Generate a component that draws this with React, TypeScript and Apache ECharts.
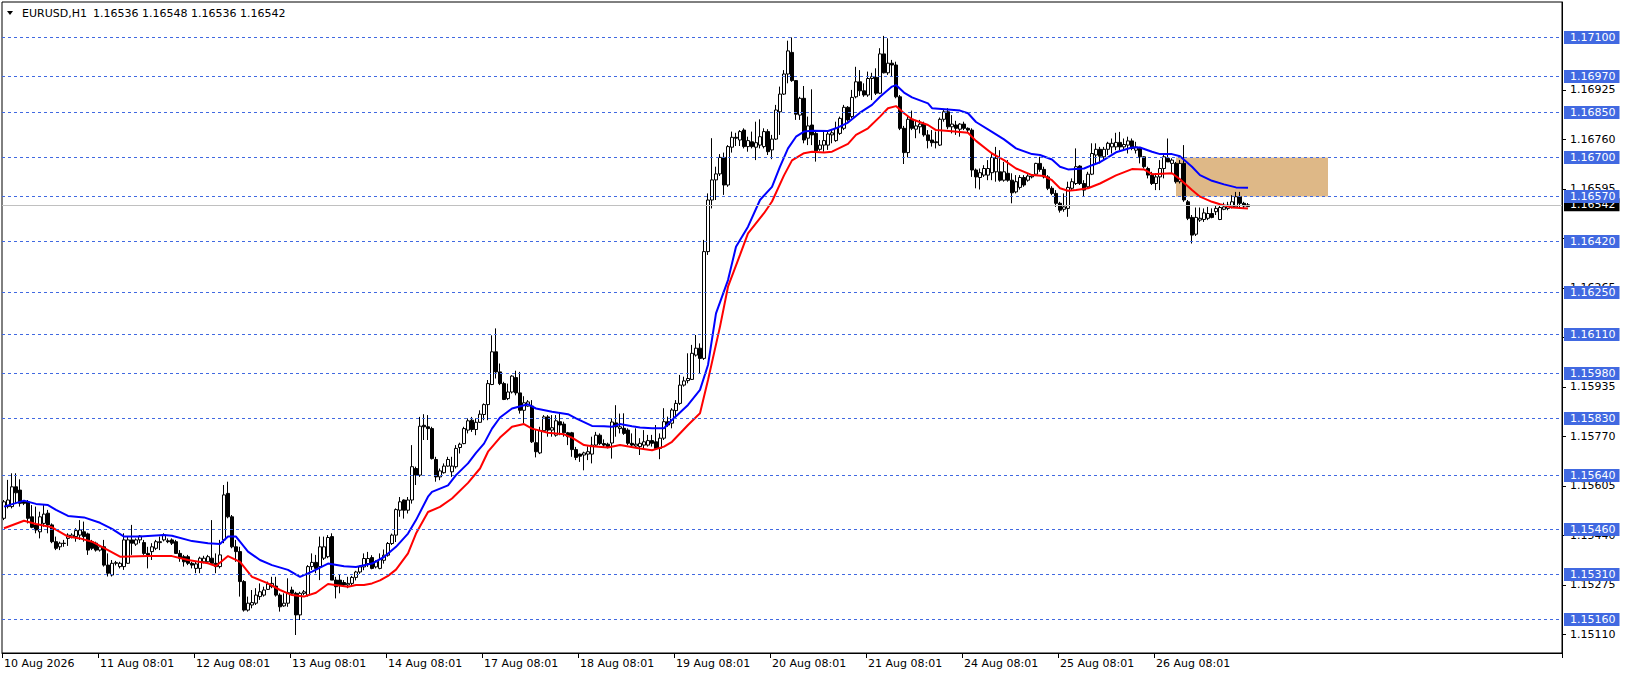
import React, { useEffect, useRef } from "react";
import * as echarts from "echarts";

// Prices below are stored as points (0.00001) above 1.15000
const BASE = 1.15;
const PT = 0.00001;

const headerSymbol = "EURUSD,H1";
const headerQuote = "1.16536 1.16548 1.16536 1.16542";

const dayLabels = [
  "10 Aug 2026", "11 Aug 08:01", "12 Aug 08:01", "13 Aug 08:01", "14 Aug 08:01",
  "17 Aug 08:01", "18 Aug 08:01", "19 Aug 08:01", "20 Aug 08:01", "21 Aug 08:01",
  "24 Aug 08:01", "25 Aug 08:01", "26 Aug 08:01",
];
const barsPerDay = 24;
const totalSlots = 390;

const levels = [1.171, 1.1697, 1.1685, 1.167, 1.1657, 1.1642, 1.1625, 1.1611, 1.1598, 1.1583, 1.1564, 1.1546, 1.1531, 1.1516];
const tickValues = [1.1511, 1.15275, 1.1544, 1.15605, 1.1577, 1.15935, 1.161, 1.16265, 1.1643, 1.16595, 1.1676, 1.16925];
const labelValues = [1.1511, 1.15275, 1.1544, 1.15605, 1.1577, 1.15935, 1.16265, 1.16595, 1.1676, 1.16925];
const currentPrice = 1.16542;
const zonePrices = [1.1657, 1.167];
const zoneBars = [293, 331];
const yMin = 1.15048;
const yMax = 1.17218;

// [open, high, low, close] in points
const day0 = [[497,558,491,552],[536,625,530,558],[536,647,530,602],[602,647,547,582],[591,627,536,547],[552,558,541,547],[552,558,480,497],[502,541,464,467],[475,536,447,458],[452,519,430,502],[480,541,469,511],[514,525,447,475],[475,480,414,419],[419,436,391,397],[402,419,391,414],[414,425,402,413],[430,447,405,441],[434,447,430,441],[436,464,419,456],[441,491,425,458],[452,486,419,436],[445,449,375,391],[419,425,391,397],[414,419,386,391]];
const day1 = [[391,408,386,402],[402,425,336,341],[341,380,303,314],[308,358,303,347],[347,355,340,349],[336,352,330,347],[336,447,325,425],[347,436,345,425],[425,475,375,414],[411,430,405,425],[425,441,414,438],[416,425,375,380],[380,402,330,375],[386,414,358,402],[397,425,391,419],[416,436,391,419],[425,447,420,441],[422,430,414,419],[425,430,408,414],[419,425,378,380],[380,391,352,364],[369,375,336,352],[369,375,341,347],[347,352,330,341]];
const day2 = [[330,352,314,345],[330,369,314,364],[352,372,347,364],[352,375,345,369],[364,491,341,347],[347,380,314,336],[336,425,330,375],[425,608,414,575],[580,619,497,502],[502,508,397,402],[402,425,352,386],[386,402,236,286],[286,291,186,191],[191,236,186,214],[208,258,197,216],[214,264,208,241],[236,280,225,252],[241,269,236,258],[260,286,258,278],[269,302,264,280],[271,302,236,241],[241,247,186,202],[205,247,202,214],[214,297,202,249]];
const day3 = [[258,269,241,247],[247,252,108,175],[175,252,158,247],[247,258,241,252],[241,341,236,336],[336,380,325,350],[350,375,314,330],[336,436,291,402],[364,436,358,402],[369,441,364,433],[436,447,291,291],[291,302,230,269],[291,308,247,275],[283,291,269,275],[275,302,264,280],[280,305,270,300],[300,322,290,318],[318,340,312,335],[335,380,324,363],[346,385,335,363],[366,374,327,330],[335,357,330,352],[330,380,327,360],[357,393,346,374]];
const day4 = [[374,418,369,413],[413,446,408,441],[441,530,418,526],[524,568,502,552],[558,560,496,524],[524,568,513,558],[558,741,546,669],[663,669,608,641],[641,835,635,804],[807,844,758,802],[802,841,758,796],[796,802,693,696],[693,702,619,635],[635,663,624,655],[649,680,646,671],[671,702,669,693],[652,702,635,671],[669,741,663,730],[733,749,713,744],[746,802,744,796],[791,830,780,822],[824,835,785,793],[793,830,774,817],[817,857,815,844]];
const day5 = [[843,880,824,876],[876,958,824,946],[943,1107,941,1052],[1052,1130,963,985],[985,1013,941,946],[946,952,891,893],[896,946,891,918],[918,974,913,971],[966,989,907,915],[915,985,846,857],[857,904,813,882],[871,891,869,885],[871,891,748,752],[749,791,700,719],[715,802,711,789],[789,841,785,835],[835,841,769,791],[791,841,769,799],[774,841,769,822],[819,849,774,808],[811,819,769,782],[782,785,741,769],[782,785,702,726],[726,735,691,700]];
const day6 = [[711,713,685,704],[708,719,657,715],[711,737,691,719],[711,769,680,741],[741,785,735,774],[774,780,741,746],[746,760,735,741],[744,749,730,735],[748,830,696,818],[815,874,769,802],[796,846,780,802],[797,847,775,780],[791,797,741,747],[747,780,736,741],[738,797,733,744],[736,764,708,747],[741,791,730,752],[741,775,736,756],[756,775,736,747],[752,808,725,730],[730,780,694,764],[764,864,758,819],[819,836,802,808],[814,864,797,858]];
const day7 = [[856,891,836,880],[880,975,875,941],[941,969,936,955],[956,1047,947,963],[960,1075,958,1047],[1041,1108,1036,1064],[1064,1080,980,1030],[1030,1425,1025,1386],[1386,1580,1375,1558],[1558,1764,1530,1625],[1625,1669,1558,1645],[1645,1711,1638,1700],[1700,1716,1575,1608],[1608,1741,1602,1736],[1734,1786,1716,1767],[1767,1782,1738,1764],[1758,1791,1738,1786],[1791,1797,1730,1736],[1736,1769,1719,1756],[1752,1786,1730,1736],[1734,1819,1691,1749],[1741,1827,1730,1769],[1736,1797,1730,1786],[1786,1794,1708,1719]];
const day8 = [[1725,1775,1694,1761],[1761,1875,1758,1858],[1852,1936,1775,1911],[1911,1991,1908,1978],[1978,2089,1947,2055],[2050,2100,1952,1956],[1956,1958,1825,1844],[1841,1902,1825,1897],[1897,1938,1747,1758],[1764,1836,1741,1805],[1808,1927,1741,1775],[1780,1791,1686,1722],[1727,1758,1722,1741],[1741,1786,1719,1756],[1741,1786,1725,1778],[1775,1791,1747,1782],[1756,1819,1752,1797],[1780,1836,1775,1830],[1797,1875,1791,1867],[1867,1871,1819,1825],[1836,1925,1830,1900],[1902,2002,1897,1952],[1952,1991,1905,1922],[1922,1947,1902,1908]];
const day9 = [[1908,1986,1902,1963],[1963,1982,1891,1969],[1967,1997,1908,1914],[1914,2064,1911,2045],[2045,2105,1980,1982],[1982,2097,1975,2014],[2014,2025,1971,2008],[2008,2019,1897,1902],[1902,1908,1791,1797],[1797,1805,1678,1716],[1716,1836,1700,1827],[1827,1856,1791,1797],[1794,1825,1764,1805],[1802,1825,1780,1811],[1811,1819,1769,1775],[1775,1791,1730,1756],[1758,1791,1736,1749],[1752,1786,1730,1749],[1741,1833,1738,1827],[1827,1860,1819,1852],[1852,1864,1794,1802],[1802,1841,1780,1811],[1808,1822,1775,1797],[1794,1814,1769,1811]];
const day10 = [[1811,1819,1791,1797],[1797,1800,1782,1791],[1791,1797,1635,1658],[1658,1663,1597,1635],[1633,1663,1593,1649],[1641,1674,1635,1663],[1641,1691,1624,1663],[1649,1713,1624,1700],[1652,1735,1619,1697],[1652,1724,1619,1624],[1624,1685,1619,1652],[1647,1691,1619,1624],[1624,1647,1547,1582],[1585,1641,1580,1619],[1600,1641,1593,1633],[1633,1641,1602,1608],[1624,1644,1619,1638],[1635,1644,1630,1638],[1644,1682,1638,1680],[1680,1702,1652,1660],[1660,1669,1630,1635],[1635,1641,1591,1597],[1597,1604,1574,1580],[1580,1591,1535,1547]];
const day11 = [[1547,1552,1516,1524],[1527,1580,1519,1535],[1530,1619,1502,1600],[1597,1630,1591,1619],[1613,1730,1608,1669],[1671,1674,1608,1613],[1613,1624,1571,1591],[1602,1652,1597,1644],[1644,1747,1641,1713],[1708,1747,1680,1727],[1727,1735,1680,1704],[1702,1735,1691,1727],[1727,1752,1708,1747],[1735,1763,1713,1747],[1735,1782,1724,1750],[1750,1785,1724,1735],[1735,1763,1727,1743],[1741,1769,1713,1755],[1755,1763,1724,1730],[1724,1752,1713,1735],[1730,1735,1680,1702],[1702,1704,1663,1669],[1663,1669,1630,1641],[1641,1652,1608,1613]];
const day12 = [[1613,1647,1591,1635],[1635,1691,1591,1663],[1663,1708,1630,1702],[1697,1763,1685,1685],[1680,1697,1647,1691],[1680,1685,1613,1619],[1619,1691,1613,1680],[1680,1741,1552,1558],[1552,1558,1491,1497],[1500,1508,1413,1441],[1444,1533,1438,1500],[1491,1533,1485,1497],[1493,1530,1485,1515],[1497,1535,1491,1513],[1513,1530,1497,1500],[1519,1541,1508,1530],[1493,1541,1491,1533],[1527,1549,1524,1535],[1530,1552,1524,1541],[1535,1574,1530,1552],[1535,1585,1533,1569],[1569,1585,1530,1547],[1547,1552,1530,1538],[1536,1548,1536,1542]];

// moving averages: [bar, points]
const blueMA = [[0,536],[5,556],[8,545],[11,541],[13,525],[16,505],[20,500],[24,482],[27,462],[30,436],[34,436],[40,441],[42,439],[47,421],[51,414],[54,411],[56,436],[58,436],[61,386],[64,358],[67,341],[71,325],[74,302],[77,319],[81,346],[85,337],[88,335],[92,346],[95,368],[98,402],[101,446],[103,491],[106,569],[107,585],[111,607],[113,641],[116,680],[118,715],[120,746],[122,796],[124,833],[127,863],[131,877],[133,863],[137,852],[141,844],[143,830],[147,805],[150,804],[152,802],[154,811],[157,804],[159,800],[162,797],[165,797],[167,825],[171,875],[174,925],[176,1008],[178,1180],[181,1291],[183,1402],[186,1469],[189,1558],[192,1602],[194,1669],[196,1730],[198,1769],[200,1786],[202,1789],[206,1788],[208,1797],[211,1816],[214,1849],[217,1875],[219,1902],[222,1936],[223,1941],[225,1916],[227,1900],[231,1880],[232,1864],[236,1860],[239,1856],[241,1847],[243,1818],[247,1785],[250,1760],[253,1730],[257,1711],[259,1708],[262,1693],[264,1669],[266,1660],[270,1663],[272,1674],[274,1684],[276,1700],[278,1717],[282,1733],[284,1733],[287,1719],[289,1711],[292,1711],[294,1704],[297,1669],[299,1641],[302,1622],[305,1610],[308,1600],[311,1599]];
const redMA = [[0,464],[5,489],[8,478],[12,467],[16,436],[19,430],[22,419],[26,391],[29,369],[36,371],[42,371],[46,358],[51,347],[53,338],[56,371],[59,352],[62,302],[66,280],[69,258],[72,241],[75,236],[78,249],[81,278],[86,269],[88,275],[90,275],[92,280],[94,290],[96,305],[98,326],[101,380],[103,446],[106,518],[109,535],[112,563],[116,615],[119,663],[121,719],[124,766],[127,802],[130,811],[132,796],[136,782],[140,777],[142,766],[145,741],[147,737],[151,733],[154,741],[159,730],[162,724],[165,736],[167,752],[171,808],[174,847],[176,958],[179,1136],[181,1269],[184,1375],[186,1447],[190,1514],[192,1553],[195,1640],[197,1690],[200,1714],[202,1719],[205,1716],[207,1719],[211,1745],[213,1775],[216,1797],[219,1836],[221,1864],[223,1871],[225,1847],[227,1827],[231,1808],[233,1791],[237,1787],[241,1782],[243,1755],[247,1713],[250,1691],[253,1663],[257,1641],[260,1638],[262,1624],[264,1597],[266,1589],[268,1591],[271,1597],[274,1613],[278,1640],[282,1661],[285,1660],[287,1644],[292,1647],[294,1627],[297,1591],[299,1569],[302,1552],[304,1544],[307,1533],[311,1530]];

const toPrice = (p: number) => Number((BASE + p * PT).toFixed(5));
const FONT = "DejaVu Sans";

export default function App() {
  const ref = useRef<HTMLDivElement>(null);
  useEffect(() => {
    if (!ref.current) return;
    const chart = echarts.init(ref.current, null, { renderer: "svg" });
    const candles = [...day0, ...day1, ...day2, ...day3, ...day4, ...day5, ...day6, ...day7, ...day8, ...day9, ...day10, ...day11, ...day12];
    const categories = Array.from({ length: totalSlots }, (_, i) => String(i));
    const candleData = candles.map(([o, h, l, c]) => [toPrice(o), toPrice(c), toPrice(l), toPrice(h)]);
    const isDayStart = (i: number) => i % barsPerDay === 0 && i / barsPerDay < dayLabels.length;
    const blue = blueMA.map(([b, p]) => [b, toPrice(p)]);
    const red = redMA.map(([b, p]) => [b, toPrice(p)]);

    chart.setOption({
      animation: false,
      backgroundColor: "#ffffff",
      grid: { left: 2, top: 2, right: 64, bottom: 24, show: true, borderColor: "#000", borderWidth: 1, backgroundColor: "transparent" },
      xAxis: {
        type: "category",
        data: categories,
        boundaryGap: true,
        axisLine: { show: true, lineStyle: { color: "#000", width: 1 } },
        axisTick: { show: true, interval: (i: number) => isDayStart(i), length: 5, lineStyle: { color: "#000" } },
        axisLabel: {
          interval: (i: number) => isDayStart(i),
          formatter: (_v: string, i: number) => dayLabels[i / barsPerDay] ?? "",
          align: "left",
          color: "#000",
          fontSize: 11,
          fontFamily: FONT,
          margin: 5,
        },
        splitLine: { show: false },
      },
      yAxis: {
        type: "value",
        position: "right",
        min: yMin,
        max: yMax,
        axisLine: { show: true, lineStyle: { color: "#000" } },
        axisTick: { show: true, customValues: tickValues, length: 4, lineStyle: { color: "#000" } },
        axisLabel: {
          customValues: labelValues,
          formatter: (v: number) => v.toFixed(5),
          color: "#000",
          fontSize: 11,
          fontFamily: FONT,
          margin: 8,
        },
        splitLine: { show: false },
      },
      graphic: [
        { type: "polygon", shape: { points: [[7, 11], [13, 11], [10, 15]] }, style: { fill: "#000" } },
        { type: "text", x: 22, y: 13, style: { text: headerSymbol, fill: "#000", fontSize: 11, fontFamily: FONT, verticalAlign: "middle", textVerticalAlign: "middle" } },
        { type: "text", x: 93, y: 13, style: { text: headerQuote, fill: "#000", fontSize: 11, fontFamily: FONT, verticalAlign: "middle", textVerticalAlign: "middle" } },
      ],
      series: [
        {
          type: "line",
          data: [],
          z: 1,
          silent: true,
          markArea: {
            silent: true,
            itemStyle: { color: "#DEB887", opacity: 1 },
            data: [[{ xAxis: zoneBars[0], yAxis: zonePrices[0] }, { xAxis: zoneBars[1], yAxis: zonePrices[1] }]],
          },
          markLine: {
            silent: true,
            precision: 5,
            symbol: ["none", "none"],
            lineStyle: { color: "#c0c0c0", type: "solid", width: 1 },
            label: {
              show: true,
              position: "end",
              distance: 2,
              formatter: () => currentPrice.toFixed(5),
              backgroundColor: "#000",
              color: "#fff",
              padding: [1, 4, 0, 6],
              fontSize: 11,
              lineHeight: 12,
              fontFamily: FONT,
            },
            data: [{ yAxis: currentPrice }],
          },
        },
        {
          type: "line",
          data: [],
          z: 2,
          silent: true,
          markLine: {
            silent: true,
            precision: 5,
            symbol: ["none", "none"],
            lineStyle: { color: "#4169E1", type: [3, 3], width: 1 },
            label: {
              show: true,
              position: "end",
              distance: 2,
              formatter: (p: any) => Number(p.value).toFixed(5),
              backgroundColor: "#4169E1",
              color: "#fff",
              padding: [1, 4, 0, 6],
              fontSize: 11,
              lineHeight: 12,
              fontFamily: FONT,
            },
            data: levels.map((v) => ({ yAxis: v })),
          },
        },
        {
          type: "candlestick",
          data: candleData,
          z: 3,
          barWidth: 3,
          itemStyle: { color: "#ffffff", color0: "#000000", borderColor: "#000000", borderColor0: "#000000", borderWidth: 1 },
        },
        {
          type: "line",
          data: blue,
          z: 4,
          showSymbol: false,
          symbol: "none",
          lineStyle: { color: "#0000ff", width: 2 },
        },
        {
          type: "line",
          data: red,
          z: 4,
          showSymbol: false,
          symbol: "none",
          lineStyle: { color: "#ff0000", width: 2 },
        },
      ],
    });
    return () => chart.dispose();
  }, []);
  return <div ref={ref} style={{ position: "fixed", left: 0, top: 0, width: 1626, height: 677, background: "#fff" }} />;
}
